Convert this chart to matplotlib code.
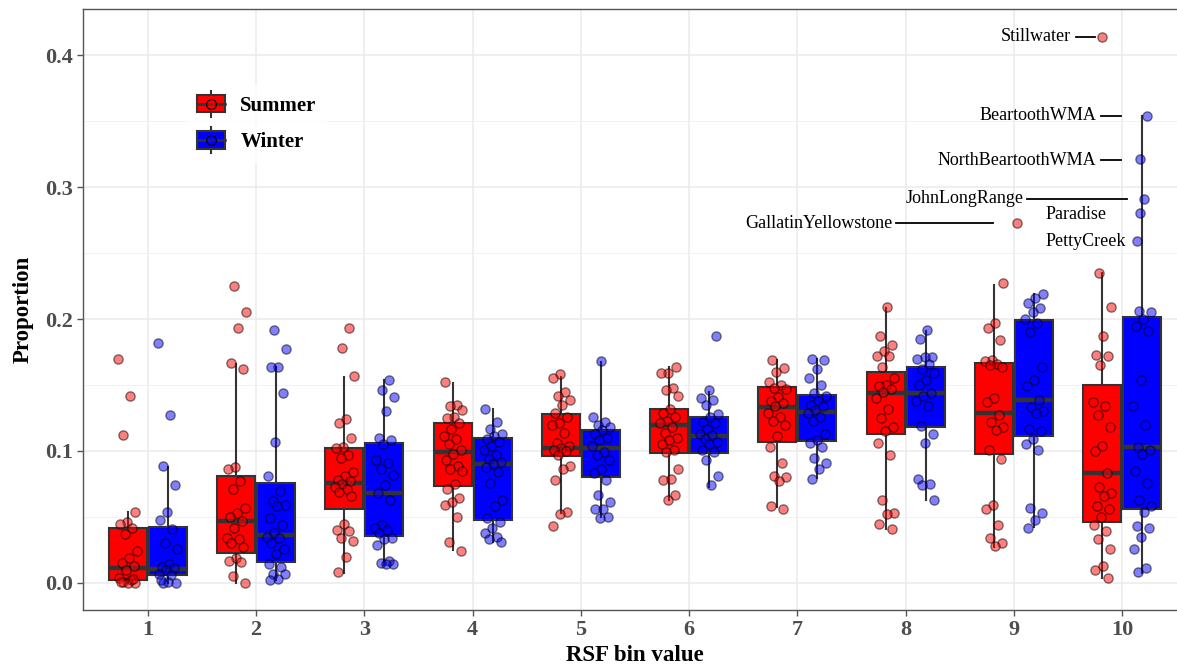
import matplotlib
matplotlib.use('Agg')
import matplotlib.pyplot as plt
from matplotlib.legend_handler import HandlerBase
from matplotlib.patches import Rectangle
from matplotlib.lines import Line2D

plt.rcParams['font.family'] = ['Liberation Serif', 'DejaVu Serif']

bins = [1, 2, 3, 4, 5, 6, 7, 8, 9, 10]
seasons = ['Summer', 'Winter']
colors = {'Summer': '#FF0000', 'Winter': '#0000FF'}

# proportion per study area
summer_pts = [
    [0.170, 0.142, 0.112, 0.054, 0.046, 0.045, 0.042, 0.037, 0.024, 0.019, 0.015, 0.013, 0.010, 0.004, 0.002, 0.001, 0.000, 0.000, 0.001, 0.003],
    [0.225, 0.205, 0.193, 0.167, 0.162, 0.088, 0.086, 0.077, 0.071, 0.057, 0.053, 0.050, 0.047, 0.042, 0.034, 0.033, 0.030, 0.027, 0.019, 0.017, 0.016, 0.005, 0.000],
    [0.193, 0.178, 0.157, 0.124, 0.121, 0.110, 0.103, 0.102, 0.097, 0.095, 0.084, 0.081, 0.078, 0.077, 0.075, 0.073, 0.071, 0.069, 0.066, 0.045, 0.040, 0.039, 0.034, 0.032, 0.020, 0.008],
    [0.152, 0.135, 0.134, 0.131, 0.126, 0.125, 0.121, 0.117, 0.111, 0.109, 0.105, 0.101, 0.098, 0.093, 0.089, 0.086, 0.085, 0.075, 0.071, 0.064, 0.061, 0.059, 0.050, 0.031, 0.024],
    [0.158, 0.155, 0.145, 0.142, 0.139, 0.135, 0.129, 0.126, 0.121, 0.120, 0.114, 0.106, 0.104, 0.102, 0.101, 0.100, 0.097, 0.089, 0.086, 0.078, 0.054, 0.052, 0.043],
    [0.164, 0.159, 0.159, 0.148, 0.146, 0.142, 0.132, 0.129, 0.126, 0.123, 0.121, 0.118, 0.114, 0.110, 0.108, 0.105, 0.101, 0.099, 0.086, 0.079, 0.078, 0.067, 0.063],
    [0.169, 0.163, 0.160, 0.152, 0.150, 0.148, 0.147, 0.141, 0.138, 0.136, 0.134, 0.129, 0.126, 0.123, 0.120, 0.111, 0.103, 0.091, 0.081, 0.080, 0.077, 0.058, 0.056],
    [0.209, 0.187, 0.180, 0.176, 0.172, 0.172, 0.164, 0.155, 0.150, 0.149, 0.147, 0.145, 0.140, 0.132, 0.125, 0.118, 0.115, 0.106, 0.097, 0.063, 0.053, 0.052, 0.045, 0.041],
    [0.227, 0.197, 0.193, 0.184, 0.169, 0.168, 0.166, 0.165, 0.164, 0.140, 0.137, 0.127, 0.122, 0.118, 0.116, 0.101, 0.094, 0.059, 0.056, 0.044, 0.034, 0.030, 0.028],
    [0.235, 0.209, 0.187, 0.173, 0.172, 0.165, 0.137, 0.134, 0.127, 0.118, 0.104, 0.100, 0.083, 0.073, 0.068, 0.066, 0.058, 0.056, 0.050, 0.044, 0.039, 0.033, 0.026, 0.013, 0.010, 0.004],
]
winter_pts = [
    [0.182, 0.127, 0.089, 0.074, 0.054, 0.048, 0.041, 0.030, 0.026, 0.014, 0.012, 0.011, 0.010, 0.007, 0.006, 0.000, 0.000, 0.001, 0.002],
    [0.192, 0.177, 0.164, 0.164, 0.144, 0.107, 0.081, 0.070, 0.062, 0.059, 0.058, 0.049, 0.044, 0.038, 0.035, 0.034, 0.030, 0.026, 0.022, 0.014, 0.012, 0.007, 0.007, 0.003, 0.002],
    [0.154, 0.146, 0.141, 0.130, 0.110, 0.108, 0.105, 0.093, 0.091, 0.086, 0.082, 0.074, 0.068, 0.063, 0.044, 0.042, 0.040, 0.038, 0.034, 0.033, 0.029, 0.017, 0.015, 0.014, 0.014],
    [0.132, 0.122, 0.117, 0.113, 0.111, 0.109, 0.107, 0.104, 0.101, 0.097, 0.094, 0.092, 0.090, 0.088, 0.084, 0.076, 0.063, 0.058, 0.049, 0.046, 0.042, 0.038, 0.035, 0.033, 0.031],
    [0.168, 0.126, 0.122, 0.120, 0.118, 0.116, 0.113, 0.110, 0.108, 0.104, 0.099, 0.097, 0.093, 0.086, 0.083, 0.078, 0.067, 0.061, 0.056, 0.056, 0.050, 0.049],
    [0.187, 0.146, 0.140, 0.139, 0.135, 0.128, 0.126, 0.122, 0.121, 0.117, 0.113, 0.112, 0.109, 0.107, 0.105, 0.101, 0.099, 0.093, 0.081, 0.074],
    [0.170, 0.169, 0.162, 0.155, 0.150, 0.144, 0.142, 0.138, 0.135, 0.134, 0.131, 0.129, 0.126, 0.123, 0.113, 0.108, 0.106, 0.103, 0.095, 0.091, 0.086, 0.079],
    [0.192, 0.185, 0.171, 0.171, 0.170, 0.166, 0.162, 0.159, 0.154, 0.150, 0.144, 0.142, 0.138, 0.134, 0.119, 0.113, 0.106, 0.079, 0.075, 0.074, 0.063],
    [0.219, 0.216, 0.212, 0.208, 0.205, 0.200, 0.197, 0.190, 0.164, 0.154, 0.149, 0.139, 0.133, 0.130, 0.129, 0.117, 0.115, 0.109, 0.105, 0.101, 0.057, 0.053, 0.048, 0.042],
    [0.206, 0.205, 0.200, 0.195, 0.191, 0.154, 0.134, 0.120, 0.103, 0.101, 0.098, 0.085, 0.076, 0.063, 0.058, 0.054, 0.043, 0.042, 0.035, 0.026, 0.011, 0.008],
]

# box stats per bin: q1, median, q3, whisker low, whisker high
summer_q1 = [0.002, 0.0225, 0.0558, 0.0735, 0.0965, 0.0987, 0.107, 0.1126, 0.0977, 0.0465]
summer_med = [0.011, 0.0472, 0.076, 0.0995, 0.1025, 0.1197, 0.1336, 0.1437, 0.1285, 0.0831]
summer_q3 = [0.0414, 0.081, 0.1025, 0.1215, 0.1278, 0.1318, 0.1482, 0.1601, 0.1669, 0.1497]
summer_lo = [0.0, 0.0, 0.0078, 0.025, 0.0533, 0.0629, 0.0578, 0.041, 0.0275, 0.0035]
summer_hi = [0.0535, 0.1657, 0.1563, 0.1518, 0.1563, 0.1639, 0.169, 0.208, 0.2258, 0.2346]

winter_q1 = [0.006, 0.0157, 0.0359, 0.0477, 0.0806, 0.0982, 0.1078, 0.1184, 0.1114, 0.0558]
winter_med = [0.0104, 0.0361, 0.0684, 0.0899, 0.1025, 0.1116, 0.1298, 0.1437, 0.1386, 0.1033]
winter_q3 = [0.0427, 0.0755, 0.1063, 0.1096, 0.1159, 0.126, 0.1424, 0.1639, 0.1992, 0.2018]
winter_lo = [0.0, 0.002, 0.0136, 0.031, 0.0503, 0.073, 0.0793, 0.0629, 0.0422, 0.0078]
winter_hi = [0.088, 0.1639, 0.1538, 0.1316, 0.1677, 0.145, 0.1694, 0.1912, 0.2187, 0.354]

# named study areas
label_names = ['Stillwater', 'GallatinYellowstone', 'BeartoothWMA', 'NorthBeartoothWMA',
               'JohnLongRange', 'Paradise', 'PettyCreek']
label_bins = [10, 9, 10, 10, 10, 10, 10]
label_seasons = ['Summer', 'Summer', 'Winter', 'Winter', 'Winter', 'Winter', 'Winter']
label_values = [0.414, 0.273, 0.354, 0.321, 0.291, 0.280, 0.259]

dodge = 0.185
box_w = 0.35
jit = 0.09
label_jitter = [0.0, 0.21, 0.045, -0.02, 0.02, -0.02, -0.045]

fig = plt.figure(figsize=(11.77, 6.69), dpi=100)
ax = fig.add_axes([0.0705, 0.0882, 0.938, 0.898])
ax.set_facecolor('white')

ax.set_xlim(0.4, 10.6)
ax.set_ylim(-0.0205, 0.4348)
ax.set_yticks([0.0, 0.1, 0.2, 0.3, 0.4])
ax.set_yticks([0.05, 0.15, 0.25, 0.35], minor=True)
ax.set_yticklabels(['0.0', '0.1', '0.2', '0.3', '0.4'])
ax.set_xticks(bins)
ax.set_xticklabels([str(b) for b in bins])
ax.grid(True, which='major', color='#ebebeb', lw=1.1, zorder=0)
ax.grid(True, which='minor', axis='y', color='#f2f2f2', lw=0.7, zorder=0)
ax.set_axisbelow(True)

for sp in ax.spines.values():
    sp.set_color('#555555')
    sp.set_linewidth(1.0)
ax.tick_params(axis='both', which='major', colors='#555555', length=4, width=1,
               labelsize=16, labelcolor='#4d4d4d')
ax.tick_params(which='minor', length=0)
for t in ax.get_xticklabels() + ax.get_yticklabels():
    t.set_fontweight('bold')

groups = [
    ('Summer', -dodge, summer_q1, summer_med, summer_q3, summer_lo, summer_hi, summer_pts),
    ('Winter', dodge, winter_q1, winter_med, winter_q3, winter_lo, winter_hi, winter_pts),
]

for season, off, q1, med, q3, lo, hi, pts in groups:
    stats = []
    for i in range(len(bins)):
        stats.append({'q1': q1[i], 'med': med[i], 'q3': q3[i],
                      'whislo': lo[i], 'whishi': hi[i], 'fliers': []})
    pos = [b + off for b in bins]
    ax.bxp(stats, positions=pos, widths=box_w, patch_artist=True,
           showfliers=False, showcaps=False, manage_ticks=False,
           boxprops=dict(facecolor=colors[season], edgecolor='#333333', linewidth=1.5),
           medianprops=dict(color='#333333', linewidth=3.2, solid_capstyle='butt'),
           whiskerprops=dict(color='#333333', linewidth=1.5), zorder=2)

# jittered points (deterministic spread)
for season, off, q1, med, q3, lo, hi, pts in groups:
    xs, ys = [], []
    for i, b in enumerate(bins):
        for k, v in enumerate(pts[i]):
            frac = ((k * 0.618034 + i * 0.37) % 1.0) - 0.5
            xs.append(b + off + frac * 2 * jit)
            ys.append(v)
    ax.scatter(xs, ys, s=44, facecolor=colors[season], alpha=0.5,
               edgecolor='black', linewidth=1.0, zorder=3)

for name, b, season, v, j in zip(label_names, label_bins, label_seasons, label_values, label_jitter):
    off = -dodge if season == 'Summer' else dodge
    ax.scatter([b + off + j], [v], s=44, facecolor=colors[season], alpha=0.5,
               edgecolor='black', linewidth=1.0, zorder=3)

# repelled labels with segments
lab_fs = 13
lab_kw = dict(fontsize=lab_fs, va='center', color='black', zorder=4)
ax.text(9.53, 0.414, 'Stillwater', ha='right', **lab_kw)
ax.plot([9.577, 9.752], [0.414, 0.414], color='black', lw=1.3, zorder=4)
ax.text(9.762, 0.354, 'BeartoothWMA', ha='right', **lab_kw)
ax.plot([9.808, 9.99], [0.354, 0.354], color='black', lw=1.3, zorder=4)
ax.text(9.762, 0.3205, 'NorthBeartoothWMA', ha='right', **lab_kw)
ax.plot([9.808, 9.99], [0.3205, 0.3205], color='black', lw=1.3, zorder=4)
ax.text(9.087, 0.2915, 'JohnLongRange', ha='right', **lab_kw)
ax.plot([9.124, 10.048], [0.291, 0.291], color='black', lw=1.3, zorder=4)
ax.text(9.29, 0.2795, 'Paradise', ha='left', **lab_kw)
ax.text(9.29, 0.2585, 'PettyCreek', ha='left', **lab_kw)
ax.text(7.876, 0.2727, 'GallatinYellowstone', ha='right', **lab_kw)
ax.plot([7.913, 8.81], [0.2727, 0.2727], color='black', lw=1.3, zorder=4)

ax.set_xlabel('RSF bin value', fontsize=16.5, fontweight='bold', labelpad=3)
ax.set_ylabel('Proportion', fontsize=16.5, fontweight='bold', labelpad=8)


class BoxKey(HandlerBase):
    def create_artists(self, legend, orig_handle, xdescent, ydescent, width, height, fontsize, trans):
        c = orig_handle.get_facecolor()
        x0, y0 = -xdescent, -ydescent
        wl = Line2D([x0 + width / 2, x0 + width / 2], [y0 - 0.25 * height, y0 + 1.25 * height],
                    color='#333333', lw=1.5, transform=trans)
        rect = Rectangle((x0, y0), width, height, facecolor=c, edgecolor='#333333',
                         lw=1.5, transform=trans)
        md = Line2D([x0, x0 + width], [y0 + height / 2, y0 + height / 2],
                    color='#333333', lw=1.8, transform=trans)
        pt = Line2D([x0 + width / 2], [y0 + height / 2], marker='o', markersize=7,
                    markerfacecolor=(c[0], c[1], c[2], 0.5), markeredgecolor='black',
                    markeredgewidth=0.9, transform=trans)
        return [wl, rect, md, pt]


handles = [Rectangle((0, 0), 1, 1, facecolor=colors[s]) for s in seasons]
leg = ax.legend(handles, seasons, handler_map={Rectangle: BoxKey()},
                loc='upper left', bbox_to_anchor=(0.084, 0.892),
                prop={'size': 15, 'weight': 'bold'}, frameon=True,
                handlelength=1.35, handleheight=0.9, handletextpad=0.75,
                labelspacing=0.75, borderpad=0.5, fancybox=False)
leg.get_frame().set_facecolor('white')
leg.get_frame().set_edgecolor('none')

fig.savefig('out.png', dpi=100)
